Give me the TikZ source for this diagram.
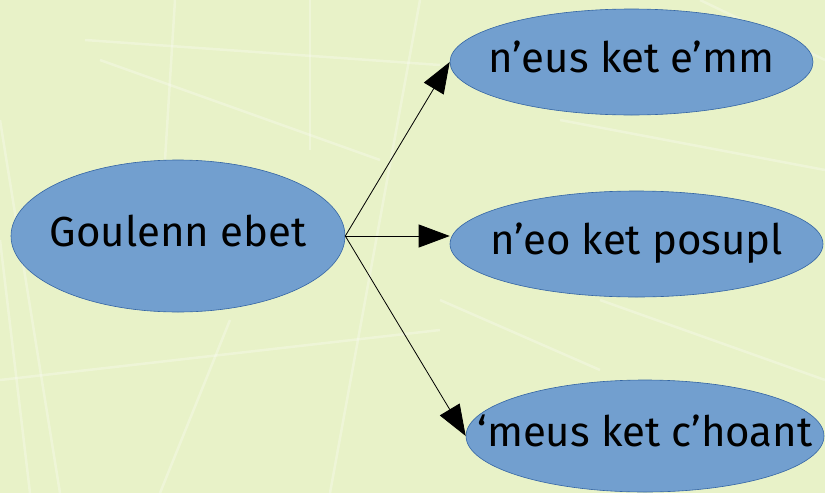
\documentclass[tikz,border=0pt]{standalone}
\usepackage{fontspec}
\setmainfont{Fira Sans}
\usetikzlibrary{shapes.geometric,arrows.meta}
\definecolor{bgc}{HTML}{E8F2C8}
\definecolor{ellfill}{HTML}{729FCF}
\definecolor{elldraw}{HTML}{3465A4}
\newcommand{\ztext}[1]{\makebox[0pt][c]{#1}}
\tikzset{
  oval/.style={ellipse, fill=ellfill, draw=elldraw, line width=0.6pt, inner sep=0pt, font=\fontsize{42}{50}\selectfont, text=black, text height=30pt, text depth=9pt},
  link/.style={line width=0.8pt, -{Triangle[length=31pt,width=23pt]}},
  texture/.style={white, opacity=0.28, line width=2.5pt}
}
\begin{document}
\begin{tikzpicture}[x=1pt,y=-1pt]
\useasboundingbox (0,0) rectangle (825,493);
\begin{scope}
\clip (0,0) rectangle (825,493);
\fill[bgc] (0,0) rectangle (825,493);
\draw[texture] (85,40) -- (440,65);
\draw[texture] (175,0) -- (165,160);
\draw[texture] (310,0) -- (310,150);
\draw[texture] (100,60) -- (380,160);
\draw[texture] (0,240) -- (30,493);
\draw[texture] (420,0) -- (330,493);
\draw[texture] (0,380) -- (440,330);
\draw[texture] (560,120) -- (825,170);
\draw[texture] (700,0) -- (825,60);
\draw[texture] (600,300) -- (825,380);
\draw[texture] (230,320) -- (160,493);
\draw[texture] (440,300) -- (600,370);
\draw[texture] (0,120) -- (60,493);
\end{scope}
\node[oval, minimum width=334pt, minimum height=152pt] (src) at (178,236) {\ztext{Goulenn ebet}};
\node[oval, minimum width=363pt, minimum height=106pt] (top) at (631.5,62) {\ztext{n’eus ket e’mm}};
\node[oval, minimum width=373pt, minimum height=106pt] (mid) at (636.5,244) {\ztext{n’eo ket posupl}};
\node[oval, minimum width=358pt, minimum height=112pt] (bot) at (645,436) {\ztext{‘meus ket c’hoant}};
\draw[link] (src.east) -- (top.west);
\draw[link] (src.east) -- (mid.west |- src.east);
\draw[link] (src.east) -- (bot.west);
\end{tikzpicture}
\end{document}
